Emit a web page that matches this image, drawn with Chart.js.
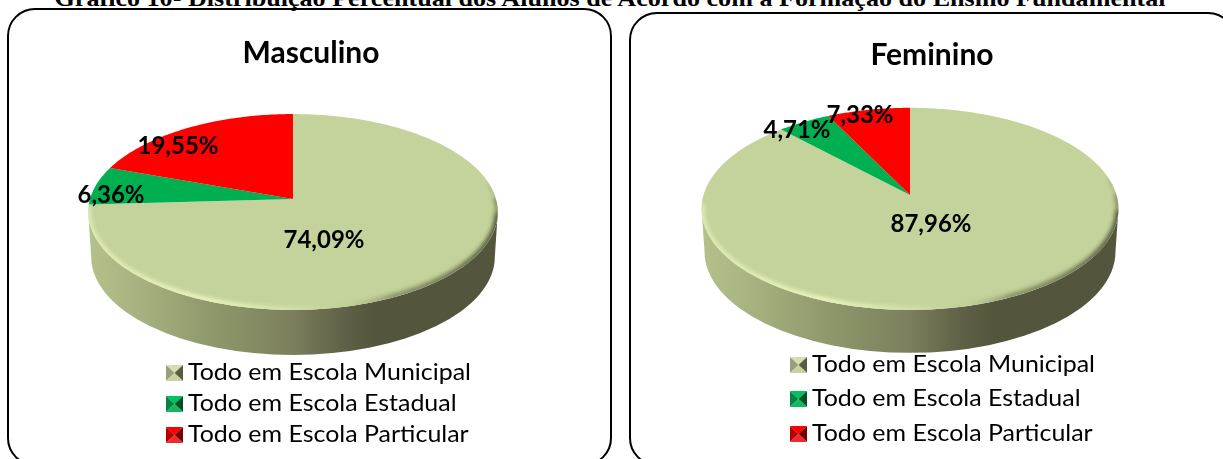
<!DOCTYPE html>
<html><head><meta charset="utf-8">
<script src="https://cdn.jsdelivr.net/npm/chart.js@4"></script>
<style>
html,body{margin:0;padding:0;background:#fff;width:1223px;height:459px;overflow:hidden}
#head{position:absolute;left:610px;top:-11px;transform:translateX(-50%) scaleX(1.16);font:bold 22.5px "Liberation Serif",serif;white-space:nowrap;color:#000;line-height:20px}
.panel{position:absolute;box-sizing:border-box;border:2px solid #000;border-radius:28px;background:#fff}
#p1{left:7px;top:8px;width:605px;height:458px}
#p2{left:629px;top:12px;width:607px;height:454px}
canvas{position:absolute}
#c1{left:0;top:0}
#c2{left:641px;top:0}
</style></head><body>
<div class="panel" id="p1"></div><div class="panel" id="p2"></div>
<div id="head">Gráfico 10- Distribuição Percentual dos Alunos de Acordo com a Formação do Ensino Fundamental</div>
<canvas id="c1" width="623" height="459" style="width:623px;height:459px"></canvas>
<canvas id="c2" width="582" height="459" style="width:582px;height:459px"></canvas>
<script>
const pageTitle = "Gráfico 10- Distribuição Percentual dos Alunos de Acordo com a Formação do Ensino Fundamental";
const categories = ["Todo em Escola Municipal", "Todo em Escola Estadual", "Todo em Escola Particular"];
const masculinoValues = [74.09, 6.36, 19.55];
const femininoValues = [87.96, 4.71, 7.33];
const sliceColors = ["#c3d39b", "#00b050", "#ff0000"];
const markerShades = [
  ["#d3dfb2", "#9a9e78", "#595c41", "#c6d29f"],
  ["#00c060", "#00843f", "#004f25", "#12b860"],
  ["#ff0000", "#b80000", "#780000", "#f02a2a"]
];
const fmt = v => v.toFixed(2).replace(".", ",") + "%";

function project(o, angle) {
  const u = Math.cos(angle), v = Math.sin(angle), d = 1 - o.k * v;
  return [u / d, o.tilt * v / d];
}

class Arc3D extends Chart.ArcElement {
  static id = "arc3d";
  draw(ctx) {
    const o = this.$context.chart.options.plugins.pie3d;
    const {x, startAngle, endAngle, outerRadius} = this.getProps(["x", "startAngle", "endAngle", "outerRadius"]);
    ctx.save();
    ctx.beginPath();
    ctx.moveTo(x, o.tipY);
    const n = Math.max(8, Math.ceil((endAngle - startAngle) * 60));
    for (let i = 0; i <= n; i++) {
      const p = project(o, startAngle + (endAngle - startAngle) * i / n);
      ctx.lineTo(x + p[0] * outerRadius, o.tipY + p[1] * outerRadius);
    }
    ctx.closePath();
    ctx.fillStyle = this.options.backgroundColor;
    ctx.fill();
    ctx.restore();
  }
}
class Pie3D extends Chart.PieController {
  static id = "pie3d";
  static defaults = {dataElementType: "arc3d"};
}
Chart.register(Arc3D, Pie3D);

function topEllipse(o, R, cx) {
  const d = 1 - o.k * o.k;
  return {cx, cy: o.tipY + o.tilt * o.k * R / d, rx: R / Math.sqrt(d), ry: o.tilt * R / d};
}

const pie3dPlugin = {
  id: "pie3d",
  afterLayout(chart, args, o) {
    chart.titleBlock.left += o.titleShift;
    chart.titleBlock.right += o.titleShift;
  },
  beforeDatasetsDraw(chart, args, o) {
    const arc = chart.getDatasetMeta(0).data[0];
    const e = topEllipse(o, arc.outerRadius, arc.x);
    const ctx = chart.ctx;
    const g = ctx.createLinearGradient(e.cx - e.rx, 0, e.cx + e.rx, 0);
    g.addColorStop(0, "#b5c18c");
    g.addColorStop(0.08, "#acb884");
    g.addColorStop(0.3, "#8f996c");
    g.addColorStop(0.5, "#7b7f5c");
    g.addColorStop(0.62, "#5f6246");
    g.addColorStop(0.7, "#53563c");
    g.addColorStop(1, "#53563c");
    ctx.save();
    ctx.beginPath();
    ctx.ellipse(e.cx, e.cy, e.rx, e.ry, 0, Math.PI, 0, true);
    ctx.lineTo(e.cx + e.rx - o.taper, e.cy + o.depth);
    ctx.ellipse(e.cx, e.cy + o.depth, e.rx - o.taper, e.ry, 0, 0, Math.PI, false);
    ctx.closePath();
    ctx.fillStyle = g;
    ctx.fill();
    ctx.restore();
  },
  afterDatasetsDraw(chart, args, o) {
    const arc = chart.getDatasetMeta(0).data[0];
    const e = topEllipse(o, arc.outerRadius, arc.x);
    const ctx = chart.ctx;
    ctx.save();
    ctx.beginPath();
    ctx.ellipse(e.cx, e.cy, e.rx, e.ry, 0, 0, Math.PI * 2);
    ctx.clip();
    const g = ctx.createLinearGradient(e.cx - e.rx, 0, e.cx + e.rx, 0);
    g.addColorStop(0, "rgba(232,244,186,.75)");
    g.addColorStop(0.3, "rgba(236,247,190,1)");
    g.addColorStop(0.5, "rgba(226,238,178,.55)");
    g.addColorStop(0.64, "rgba(190,200,145,.35)");
    g.addColorStop(0.74, "rgba(110,115,78,.7)");
    g.addColorStop(1, "rgba(70,72,50,.9)");
    ctx.filter = "blur(2px)";
    ctx.strokeStyle = g;
    ctx.lineWidth = 6;
    ctx.beginPath();
    ctx.ellipse(e.cx, e.cy, e.rx, e.ry - 0.5, 0, 0.02, Math.PI + 0.05);
    ctx.stroke();
    ctx.lineWidth = 4;
    ctx.globalAlpha = 0.7;
    ctx.beginPath();
    ctx.ellipse(e.cx, e.cy, e.rx, e.ry, 0, -0.14, 0.04);
    ctx.stroke();
    ctx.lineWidth = 2;
    ctx.globalAlpha = 0.35;
    ctx.beginPath();
    ctx.ellipse(e.cx, e.cy, e.rx, e.ry, 0, -0.3, -0.12);
    ctx.stroke();
    ctx.restore();
  },
  afterDraw(chart, args, o) {
    const ctx = chart.ctx;
    const arc = chart.getDatasetMeta(0).data[0];
    const vals = chart.data.datasets[0].data;
    ctx.save();
    ctx.textAlign = "center";
    ctx.textBaseline = "middle";
    ctx.fillStyle = "#000";
    ctx.font = "bold 24px Lato";
    vals.forEach((v, i) => {
      ctx.fillText(fmt(v), arc.x + o.labelOffsets[i][0], o.tipY + o.labelOffsets[i][1]);
    });
    ctx.textAlign = "left";
    ctx.font = "24px Lato";
    chart.data.labels.forEach((lab, i) => {
      const y = o.legendRows[i], x = o.legendX, w = 17, h = 16, c = markerShades[i];
      const tri = (a, b, col) => { ctx.beginPath(); ctx.moveTo(a[0], a[1]); ctx.lineTo(b[0], b[1]); ctx.lineTo(x + w / 2, y); ctx.closePath(); ctx.fillStyle = col; ctx.fill(); };
      const tl = [x, y - h / 2], tr = [x + w, y - h / 2], br = [x + w, y + h / 2], bl = [x, y + h / 2];
      tri(tl, tr, c[0]); tri(tl, bl, c[1]); tri(tr, br, c[2]); tri(bl, br, c[3]);
      ctx.fillStyle = "#000";
      ctx.save();
      ctx.translate(x + 22, y - 1);
      ctx.scale(o.legendStretch, 1);
      ctx.fillText(lab, 0, 0);
      ctx.restore();
    });
    ctx.restore();
  }
};

function makeChart(id, title, values, pie, padRight, radius) {
  return new Chart(document.getElementById(id), {
    type: "pie3d",
    data: {labels: categories, datasets: [{data: values, backgroundColor: sliceColors, borderWidth: 0, radius: radius}]},
    plugins: [pie3dPlugin],
    options: {
      responsive: false, animation: false,
      layout: {padding: {right: padRight}},
      plugins: {
        legend: {display: false}, tooltip: {enabled: false},
        title: {display: true, text: title, color: "#000", font: {family: "Lato", weight: "bold", size: 30}, padding: {top: pie.titleTop, bottom: 10}},
        pie3d: pie
      }
    }
  });
}

makeChart("c1", "Masculino", masculinoValues, {
  tipY: 199, k: 0.1327, tilt: 0.474, depth: 45, taper: 3, titleShift: 18,
  labelOffsets: [[31, 41], [-182, -4], [-115, -53]],
  legendX: 166, legendRows: [373, 404, 435], legendStretch: 1.04, titleTop: 35
}, 37, 203);
makeChart("c2", "Feminino", femininoValues, {
  tipY: 195, k: 0.137, tilt: 0.48, depth: 43, taper: 3, titleShift: 22,
  labelOffsets: [[21, 29], [-113, -65], [-50, -80]],
  legendX: 149, legendRows: [365, 399, 434], legendStretch: 1.04, titleTop: 37
}, 44, 206.5);
</script>
</body></html>
